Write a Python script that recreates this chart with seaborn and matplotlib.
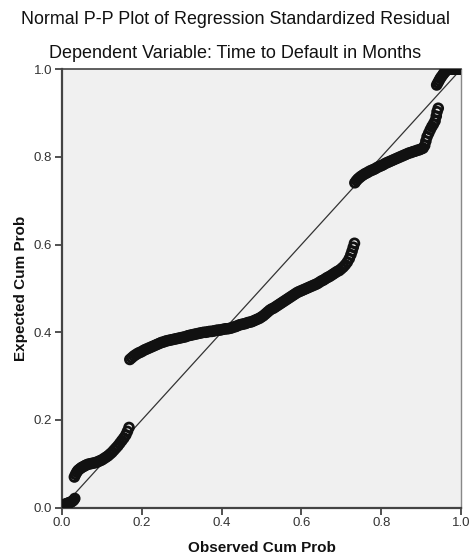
import numpy as np
import pandas as pd
import matplotlib
matplotlib.use("Agg")
import matplotlib.pyplot as plt
import seaborn as sns

# ---- data (observed cum prob, expected cum prob) ----
seg1_x = [0.002, 0.005, 0.008, 0.011, 0.014, 0.017, 0.020, 0.023, 0.026, 0.029, 0.032]
seg1_y = [0.004, 0.006, 0.008, 0.009, 0.010, 0.011, 0.012, 0.013, 0.015, 0.017, 0.021]

seg2_x = [0.031, 0.034, 0.037, 0.040, 0.044, 0.048, 0.052, 0.056, 0.060, 0.065, 0.070,
          0.075, 0.080, 0.085, 0.090, 0.095, 0.100, 0.105, 0.110, 0.115, 0.120, 0.125,
          0.130, 0.135, 0.140, 0.145, 0.150, 0.155, 0.160, 0.164, 0.168]
seg2_y = [0.070, 0.076, 0.081, 0.085, 0.088, 0.091, 0.093, 0.095, 0.097, 0.099, 0.100,
          0.101, 0.102, 0.103, 0.105, 0.107, 0.109, 0.112, 0.115, 0.118, 0.122, 0.126,
          0.131, 0.136, 0.141, 0.147, 0.153, 0.159, 0.166, 0.174, 0.183]

seg3_x = [0.170, 0.175, 0.180, 0.185, 0.190, 0.195, 0.200, 0.205, 0.210, 0.215, 0.220,
          0.225, 0.230, 0.235, 0.240, 0.245, 0.250, 0.255, 0.260, 0.265, 0.270, 0.275,
          0.280, 0.285, 0.290, 0.295, 0.300, 0.305, 0.310, 0.315, 0.320, 0.325, 0.330,
          0.335, 0.340, 0.345, 0.350, 0.355, 0.360, 0.365, 0.370, 0.375, 0.380, 0.385,
          0.390, 0.395, 0.400, 0.405, 0.410, 0.415, 0.420, 0.425, 0.430, 0.435, 0.440,
          0.445, 0.450, 0.455, 0.460, 0.465, 0.470, 0.475, 0.480, 0.485, 0.490, 0.495,
          0.500, 0.505, 0.510, 0.515, 0.520, 0.525, 0.530, 0.535, 0.540, 0.545, 0.550,
          0.555, 0.560, 0.565, 0.570, 0.575, 0.580, 0.585, 0.590, 0.595, 0.600, 0.605,
          0.610, 0.615, 0.620, 0.625, 0.630, 0.635, 0.640, 0.645, 0.650, 0.655, 0.660,
          0.665, 0.670, 0.675, 0.680, 0.685, 0.690, 0.695, 0.700, 0.705, 0.710, 0.715,
          0.720, 0.724, 0.727, 0.730, 0.733]
seg3_y = [0.338, 0.342, 0.346, 0.349, 0.352, 0.354, 0.356, 0.359, 0.361, 0.363, 0.365,
          0.367, 0.369, 0.371, 0.373, 0.375, 0.377, 0.378, 0.380, 0.381, 0.382, 0.383,
          0.384, 0.385, 0.386, 0.387, 0.388, 0.389, 0.390, 0.392, 0.393, 0.394, 0.395,
          0.396, 0.397, 0.398, 0.399, 0.400, 0.400, 0.401, 0.402, 0.402, 0.403, 0.404,
          0.405, 0.405, 0.406, 0.407, 0.408, 0.408, 0.409, 0.410, 0.412, 0.413, 0.415,
          0.417, 0.418, 0.419, 0.420, 0.422, 0.423, 0.424, 0.426, 0.428, 0.430, 0.432,
          0.435, 0.438, 0.442, 0.446, 0.450, 0.453, 0.455, 0.458, 0.461, 0.464, 0.467,
          0.470, 0.473, 0.476, 0.479, 0.482, 0.485, 0.488, 0.491, 0.493, 0.495, 0.497,
          0.499, 0.501, 0.503, 0.505, 0.507, 0.509, 0.511, 0.514, 0.517, 0.519, 0.522,
          0.525, 0.527, 0.530, 0.533, 0.536, 0.539, 0.541, 0.545, 0.549, 0.554, 0.560,
          0.568, 0.577, 0.585, 0.594, 0.603]

seg4_x = [0.734, 0.738, 0.742, 0.746, 0.750, 0.755, 0.760, 0.765, 0.770, 0.775, 0.780,
          0.785, 0.790, 0.795, 0.800, 0.805, 0.810, 0.815, 0.820, 0.825, 0.830, 0.835,
          0.840, 0.845, 0.850, 0.855, 0.860, 0.865, 0.870, 0.875, 0.880, 0.885, 0.890,
          0.895, 0.900, 0.905, 0.909, 0.912, 0.915, 0.919, 0.923, 0.927, 0.931, 0.935,
          0.938, 0.940, 0.943]
seg4_y = [0.741, 0.746, 0.750, 0.753, 0.756, 0.759, 0.762, 0.764, 0.767, 0.769, 0.771,
          0.773, 0.776, 0.778, 0.780, 0.782, 0.785, 0.787, 0.789, 0.791, 0.793, 0.795,
          0.797, 0.799, 0.801, 0.803, 0.805, 0.807, 0.809, 0.810, 0.812, 0.813, 0.815,
          0.816, 0.818, 0.820, 0.826, 0.836, 0.846, 0.854, 0.862, 0.869, 0.875, 0.882,
          0.893, 0.903, 0.911]

seg5_x = [0.939, 0.942, 0.945, 0.948, 0.951, 0.955, 0.958, 0.961, 0.964, 0.967, 0.970,
          0.974, 0.978, 0.982, 0.986, 0.990, 0.994, 0.998]
seg5_y = [0.964, 0.969, 0.974, 0.979, 0.983, 0.988, 0.992, 0.995, 0.998, 0.999, 1.000,
          1.000, 1.000, 1.000, 1.000, 1.000, 1.000, 1.000]

ticks = [0.0, 0.2, 0.4, 0.6, 0.8, 1.0]
tick_labels = ["0.0", "0.2", "0.4", "0.6", "0.8", "1.0"]
ref_x = [0.0, 1.0]
ref_y = [0.0, 1.0]

title1 = "Normal P-P Plot of Regression Standardized Residual"
title2 = "Dependent Variable: Time to Default in Months"
xlab = "Observed Cum Prob"
ylab = "Expected Cum Prob"

df = pd.DataFrame({
    "obs": seg1_x + seg2_x + seg3_x + seg4_x + seg5_x,
    "exp": seg1_y + seg2_y + seg3_y + seg4_y + seg5_y,
})

sns.set_style("white")
plt.rcParams["font.family"] = ["Liberation Sans", "DejaVu Sans"]

fig = plt.figure(figsize=(4.71, 5.60), dpi=100)
ax = fig.add_axes([62 / 471, 1 - 507.7 / 560, 399 / 471, 438.5 / 560])
ax.set_facecolor("#F0F0F0")

sns.lineplot(x=ref_x, y=ref_y, ax=ax, color="#333333", linewidth=0.9, zorder=2)
sns.scatterplot(data=df, x="obs", y="exp", ax=ax, marker="o", s=40,
                facecolors="none", edgecolor="#111111", linewidth=2.0, zorder=3)

ax.set_xlim(0, 1)
ax.set_ylim(0, 1)
ax.set_xticks(ticks)
ax.set_yticks(ticks)
ax.set_xticklabels(tick_labels, fontsize=9.5, color="#333333")
ax.set_yticklabels(tick_labels, fontsize=9.5, color="#333333")
ax.tick_params(axis="both", direction="out", length=5, width=1.2, color="#333333",
               pad=2, bottom=True, left=True)

for side in ["left", "bottom"]:
    ax.spines[side].set_color("#444444")
    ax.spines[side].set_linewidth(1.6)
ax.spines["top"].set_color("#444444")
ax.spines["top"].set_linewidth(1.2)
ax.spines["right"].set_color("#888888")
ax.spines["right"].set_linewidth(1.0)

ax.set_xlabel(xlab, fontsize=11, fontweight="bold", color="#111111", labelpad=8)
ax.set_ylabel(ylab, fontsize=11, fontweight="bold", color="#111111", labelpad=4)

fig.text(0.5, 1 - 20 / 560, title1, ha="center", va="center", fontsize=12.9, color="#111111")
fig.text(0.5, 1 - 53 / 560, title2, ha="center", va="center", fontsize=13, color="#111111")

fig.savefig("out.png", dpi=100, facecolor="white")
